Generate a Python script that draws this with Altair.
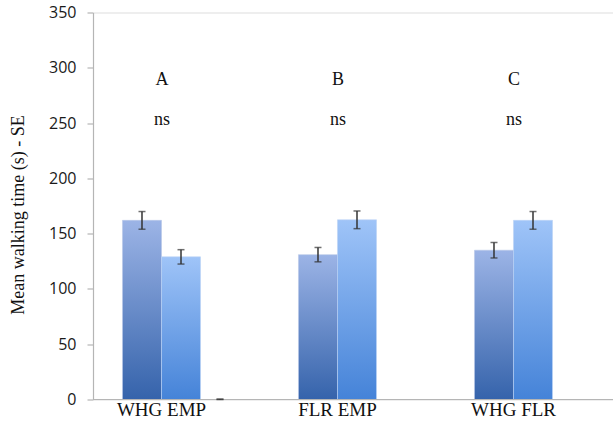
import altair as alt
import pandas as pd

# --- data -------------------------------------------------------------
groups = ["A", "B", "C"]
pair_labels = ["WHG EMP", "FLR EMP", "WHG FLR"]
significance = ["ns", "ns", "ns"]

first_means = [162, 131, 135]
first_se = [8, 6.5, 7]
second_means = [129, 162.5, 162]
second_se = [6.5, 8, 8]
# empty third series, only present in group A
third_means = [0]
third_se = [0.4]

series_names = ["s1", "s2", "s3"]
y_ticks = [0, 50, 100, 150, 200, 250, 300, 350]

rows = []
for g, m, s in zip(groups, first_means, first_se):
    rows.append({"group": g, "series": "s1", "mean": m, "lo": m - s, "hi": m + s})
for g, m, s in zip(groups, second_means, second_se):
    rows.append({"group": g, "series": "s2", "mean": m, "lo": m - s, "hi": m + s})
for g, m, s in zip(groups[:1], third_means, third_se):
    rows.append({"group": g, "series": "s3", "mean": m, "lo": m, "hi": m + s})
bars = pd.DataFrame(rows)

labels = pd.DataFrame({
    "group": groups,
    "pair": pair_labels,
    "sig": significance,
    "letter_y": [284, 284, 284],
    "sig_y": [248, 248, 248],
})

# --- layout -----------------------------------------------------------
PLOT_W = 520
PLOT_H = 387
BAND_RANGE = 528

x_enc = alt.X(
    "group:N",
    scale=alt.Scale(domain=groups, range=[0, BAND_RANGE], paddingInner=0, paddingOuter=0),
    axis=None,
)
xoff_enc = alt.XOffset(
    "series:N",
    scale=alt.Scale(domain=series_names, paddingInner=0, paddingOuter=0.756),
)
y_scale = alt.Scale(domain=[0, 350], nice=False, zero=True)

y_axis = alt.Axis(
    values=y_ticks,
    grid=False,
    domainColor="#b5b5b5",
    domainWidth=1.2,
    tickColor="#b5b5b5",
    tickSize=6,
    tickWidth=1.2,
    labelFont="Open Sans",
    labelFontSize=16,
    labelColor="#1a1a1a",
    labelPadding=11,
    title="Mean walking time (s) - SE",
    titleFont="Liberation Serif",
    titleFontSize=18,
    titleFontWeight="normal",
    titleColor="#111111",
    titleX=-75,
    titleY=202,
    titleAlign="center",
    titleBaseline="middle",
)

base = alt.Chart(bars)


def gradient(top, bottom):
    return alt.Gradient(
        gradient="linear",
        stops=[
            alt.GradientStop(color=top, offset=0),
            alt.GradientStop(color=bottom, offset=1),
        ],
        x1=0, x2=0, y1=0, y2=1,
    )


bar_first = base.transform_filter(alt.datum.series == "s1").mark_bar(
    color=gradient("#9cb4e6", "#3563ab"), stroke="#b8c8e8", strokeWidth=0.6
).encode(
    x=x_enc, xOffset=xoff_enc,
    y=alt.Y("mean:Q", scale=y_scale, axis=y_axis),
)

bar_second = base.transform_filter(alt.datum.series == "s2").mark_bar(
    color=gradient("#9fc4f8", "#4583d8"), stroke="#bcd4f5", strokeWidth=0.6
).encode(
    x=x_enc, xOffset=xoff_enc,
    y=alt.Y("mean:Q", scale=y_scale),
)

err_line = base.mark_rule(color="#333333", strokeWidth=1.5).encode(
    x=x_enc, xOffset=xoff_enc,
    y=alt.Y("lo:Q", scale=y_scale),
    y2="hi:Q",
)

cap_lo = base.mark_tick(color="#333333", thickness=1.5, size=7).encode(
    x=x_enc, xOffset=xoff_enc,
    y=alt.Y("lo:Q", scale=y_scale),
)

cap_hi = base.mark_tick(color="#333333", thickness=1.5, size=7).encode(
    x=x_enc, xOffset=xoff_enc,
    y=alt.Y("hi:Q", scale=y_scale),
)

# x baseline across the full plot width
baseline = alt.Chart(labels).mark_rule(color="#b5b5b5", strokeWidth=1.2).encode(
    x=alt.value(0), x2=alt.value("width"),
    y=alt.datum(0, scale=y_scale),
)

lab = alt.Chart(labels)
text_x = alt.X(
    "group:N",
    scale=alt.Scale(domain=groups, range=[0, BAND_RANGE], paddingInner=0, paddingOuter=0),
    axis=None,
)

pair_text = lab.mark_text(
    font="Liberation Serif", fontSize=19, color="#111111",
    baseline="alphabetic", align="center", dx=-19.5, dy=16.5,
).encode(x=text_x, y=alt.datum(0, scale=y_scale), text="pair:N")

letter_text = lab.mark_text(
    font="Liberation Serif", fontSize=18, color="#111111",
    baseline="alphabetic", align="center", dx=-19,
).encode(x=text_x, y=alt.Y("letter_y:Q", scale=y_scale), text="group:N")

sig_text = lab.mark_text(
    font="Liberation Serif", fontSize=18, color="#111111",
    baseline="alphabetic", align="center", dx=-19,
).encode(x=text_x, y=alt.Y("sig_y:Q", scale=y_scale), text="sig:N")

chart = alt.layer(
    bar_first, bar_second, baseline, err_line, cap_lo, cap_hi,
    pair_text, letter_text, sig_text,
).properties(
    width=PLOT_W,
    height=PLOT_H,
    autosize=alt.AutoSizeParams(type="none"),
    padding={"left": 93, "top": 12.5, "right": 0, "bottom": 23.5},
).configure_view(
    stroke=None,
).configure(
    background="white",
)

chart.save("out.html", embed_options={"renderer": "svg", "actions": False})
